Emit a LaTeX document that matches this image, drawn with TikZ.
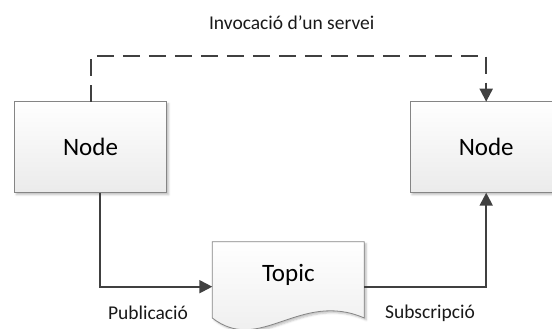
\documentclass[tikz,border=0pt]{standalone}
\usepackage{fontspec}
\setmainfont{Carlito}
\usepackage{xcolor}
\usepackage{tikz}
\usetikzlibrary{positioning,arrows.meta,shadows.blur,backgrounds}
\definecolor{linkcolor}{HTML}{404040}
\definecolor{framecolor}{HTML}{858585}

\begin{document}
\begin{tikzpicture}[
    x=1pt, y=-1pt,
    rosnode/.style={rectangle, draw=framecolor, line width=0.8pt,
                    top color=white, bottom color=black!8,
                    minimum width=152.4pt, minimum height=91pt,
                    inner sep=0pt, outer sep=0pt,
                    blur shadow={shadow xshift=2pt, shadow yshift=-2pt,
                                 shadow blur radius=2pt, shadow opacity=25},
                    font=\fontsize{25}{30}\selectfont},
    topicdoc/.style={rectangle, minimum width=152pt, minimum height=66.6pt,
                     inner sep=0pt, outer sep=0pt,
                     font=\fontsize{25}{30}\selectfont},
    docshape/.style={draw=framecolor, line width=0.8pt,
                     top color=white, bottom color=black!8,
                     blur shadow={shadow xshift=2pt, shadow yshift=-2pt,
                                  shadow blur radius=2pt, shadow opacity=25}},
    link/.style={draw=linkcolor, line width=2pt,
                 -{Triangle[length=13pt, width=13pt]}},
    lbl/.style={text=black!90, font=\fontsize{19.5}{23}\selectfont}
]
\useasboundingbox (0,0) rectangle (552,329);
\clip (0,0) rectangle (552,329);

\node[rosnode] (pub) at (90.5,147.2) {Node};
\node[rosnode, right=243.3pt of pub] (sub) {Node};
\node[topicdoc, anchor=north] (topic) at (288.3,241.7) {Topic};

% document outline behind the topic text
\begin{scope}[on background layer]
\path[docshape] (topic.north west) -- ([yshift=-9.7pt]topic.south west)
    .. controls ([shift={(47.7,46.7)}]topic.south west)
       and ([shift={(87.7,-18.3)}]topic.south west)
    .. ([yshift=-9.7pt]topic.south east) -- (topic.north east) -- cycle;
\end{scope}

\draw[link, dash pattern=on 17pt off 9pt] (pub.north) -- ++(0,-45.7) -| (sub.north);
\draw[link] ([xshift=9pt]pub.south) |- ([yshift=-11.7pt]topic.west);
\draw[link] ([yshift=-11.7pt]topic.east) -| (sub.south);

\node[lbl] (call) at (291.7,22.7) {Invocació d’un servei};
\node[lbl] (publ) at (148,313) {Publicació};
\node[lbl] (subs) at (430,313) {Subscripció};
\end{tikzpicture}
\end{document}
